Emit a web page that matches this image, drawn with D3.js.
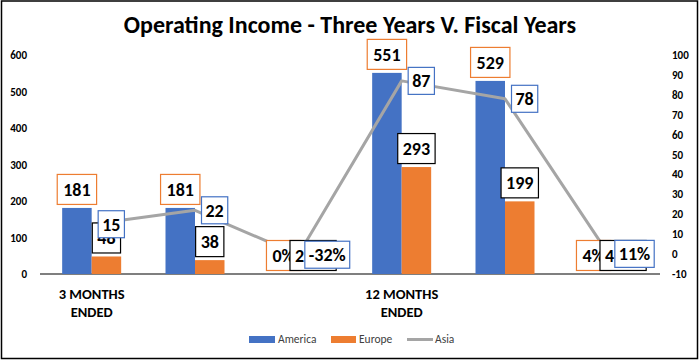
<!DOCTYPE html>
<html>
<head>
<meta charset="utf-8">
<script src="https://cdn.jsdelivr.net/npm/d3@7"></script>
<style>
  body { margin: 0; background: #fff; }
  svg { display: block; font-family: Carlito, Calibri, Lato, sans-serif; }
</style>
</head>
<body>
<svg id="chart" width="700" height="361"></svg>
<script>
// data
var categories = ["3 MONTHS\nENDED", "", "", "12 MONTHS\nENDED", "", ""];
var america = [181, 181, 0, 551, 529, 0.04];
var europe  = [48, 38, 0.02, 293, 199, 0.04];
var asia    = [15, 22, -0.32, 87, 78, 0.11];
var isPct   = [false, false, true, false, false, true];   // cells shown as percentages
var leftTicks  = [0, 100, 200, 300, 400, 500, 600];
var rightTicks = [-10, 0, 10, 20, 30, 40, 50, 60, 70, 80, 90, 100];

// plot area (window.top is read-only, so no "top" here)
var pL = 40, pR = 660, pT = 55, pB = 274;
var svg = d3.select("#chart");

// outer frame
svg.append("rect")
    .attr("x", 1.5).attr("y", 1).attr("width", 696).attr("height", 357.5)
    .attr("fill", "none").attr("stroke", "#000").attr("stroke-width", 1.5);

svg.append("text")
    .attr("x", 350).attr("y", 33)
    .attr("text-anchor", "middle")
    .attr("font-size", 24).attr("font-weight", "bold")
    .text("Operating Income - Three Years V. Fiscal Years");

var x = d3.scaleBand().domain(d3.range(categories.length)).range([pL, pR]);
var bw = x.bandwidth();
var barW = 29.5;
var xs = d3.scaleBand().domain(["America", "Europe"]).range([bw / 2 - barW, bw / 2 + barW]);
var yL = d3.scaleLinear().domain([0, 600]).range([pB, pT]);
var yR = d3.scaleLinear().domain([-10, 100]).range([pB, pT]);

// axes
var axL = svg.append("g").attr("transform", "translate(" + pL + ",0)")
    .call(d3.axisLeft(yL).tickValues(leftTicks).tickSize(0).tickPadding(13));
var axR = svg.append("g").attr("transform", "translate(" + pR + ",0)")
    .call(d3.axisRight(yR).tickValues(rightTicks).tickSize(0).tickPadding(12)
        .tickFormat(function(v) { return String(v); }));
[axL, axR].forEach(function(g) {
    g.select(".domain").remove();
    g.selectAll("text").attr("font-size", 11).attr("font-weight", "bold")
        .attr("fill", "#000").attr("font-family", "Carlito, Calibri, Lato, sans-serif");
});

var axB = svg.append("g").attr("transform", "translate(0," + pB + ")")
    .call(d3.axisBottom(x).tickSize(0).tickPadding(0).tickFormat(""));
axB.select(".domain").attr("stroke", "#000").attr("stroke-width", 1.2)
    .attr("d", "M" + pL + ",0H" + pR);
axB.selectAll(".tick text").remove();
axB.selectAll(".tick").append("text")
    .attr("font-size", 14.5).attr("font-weight", "bold").attr("fill", "#000")
    .attr("font-family", "Carlito, Calibri, Lato, sans-serif")
    .attr("text-anchor", "middle")
    .each(function(d) {
        var t = d3.select(this);
        categories[d].split("\n").forEach(function(line, k) {
            if (line) t.append("tspan").attr("x", 0).attr("y", 25 + k * 18).text(line);
        });
    });

// bars
var rows = categories.map(function(c, i) {
    return { i: i, America: america[i], Europe: europe[i], Asia: asia[i] };
});
var colors = { America: "#4472C4", Europe: "#ED7D31", Asia: "#A5A5A5" };

svg.append("g").selectAll("g").data(rows).enter().append("g")
    .attr("transform", function(d) { return "translate(" + x(d.i) + ",0)"; })
    .selectAll("rect")
    .data(function(d) { return ["America", "Europe"].map(function(k) { return { k: k, v: d[k] }; }); })
    .enter().append("rect")
    .attr("x", function(d) { return xs(d.k); })
    .attr("width", xs.bandwidth())
    .attr("y", function(d) { return yL(d.v); })
    .attr("height", function(d) { return pB - yL(d.v); })
    .attr("fill", function(d) { return colors[d.k]; });

// asia line
var line = d3.line()
    .x(function(d) { return x(d.i) + bw / 2; })
    .y(function(d) { return yR(d.Asia); });
svg.append("path").datum(rows)
    .attr("fill", "none").attr("stroke", colors.Asia).attr("stroke-width", 3)
    .attr("stroke-linejoin", "round")
    .attr("d", line);

// data labels (plain hyphen for negatives, like Excel)
var loc = d3.formatLocale({ decimal: ".", thousands: ",", grouping: [3], currency: ["$", ""], minus: "-" });
var fmtN = loc.format("d"), fmtP = loc.format(".0%"), fmtP1 = loc.format(".1%");
function labels(key, border, opts) {
    var g = svg.append("g");
    rows.forEach(function(d) {
        var txt = isPct[d.i] ? (key == "Europe" ? fmtP1(d[key]) : fmtP(d[key])) : fmtN(d[key]);
        var lg = g.append("g");
        var t = lg.append("text")
            .attr("font-size", 18).attr("font-weight", "bold").attr("fill", "#000")
            .attr("text-anchor", "middle").attr("dy", "0.35em")
            .text(txt);
        var tw = t.node().getComputedTextLength();
        var w = tw + 2 * opts.pad, h = opts.h;
        var cx, cy;
        if (key == "Asia") {
            cx = x(d.i) + bw / 2 + 6.5 + w / 2;
            cy = yR(d[key]);
        } else {
            cx = x(d.i) + xs(key) + xs.bandwidth() / 2;
            cy = yL(d[key]) - 3.5 - h / 2;
        }
        lg.insert("rect", "text")
            .attr("x", cx - w / 2).attr("y", cy - h / 2)
            .attr("width", w).attr("height", h)
            .attr("fill", "#fff").attr("stroke", border).attr("stroke-width", 1.2);
        t.attr("x", cx).attr("y", cy);
    });
}
labels("America", "#ED7D31", { pad: 6, h: 30 });
labels("Europe", "#000", { pad: 5, h: 30 });
labels("Asia", "#4472C4", { pad: 4, h: 27 });

// legend
var lg = svg.append("g").attr("font-size", 11.5).attr("fill", "#404040");
lg.append("rect").attr("x", 249).attr("y", 336).attr("width", 26).attr("height", 7).attr("fill", colors.America);
lg.append("text").attr("x", 278).attr("y", 343).text("America");
lg.append("rect").attr("x", 331).attr("y", 336).attr("width", 25).attr("height", 7).attr("fill", colors.Europe);
lg.append("text").attr("x", 359).attr("y", 343).text("Europe");
lg.append("line").attr("x1", 407).attr("x2", 433).attr("y1", 339.5).attr("y2", 339.5)
    .attr("stroke", colors.Asia).attr("stroke-width", 3);
lg.append("text").attr("x", 435).attr("y", 343).text("Asia");
</script>
</body>
</html>
